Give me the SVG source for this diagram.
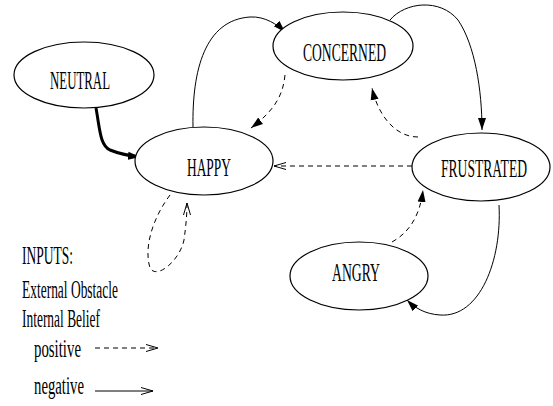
<svg xmlns="http://www.w3.org/2000/svg" width="553" height="406" viewBox="0 0 553 406">
<style>
.node ellipse{fill:#fff;stroke:#000;stroke-width:1.2}
text{font-family:"Liberation Serif","Times New Roman",serif;font-size:25px;fill:#000}
.edge{fill:none;stroke:#000;stroke-width:1}
.dash{stroke-dasharray:5,4}
.thick{stroke-width:3}
</style>
<defs>
<marker id="fa" markerUnits="userSpaceOnUse" markerWidth="14" markerHeight="10" refX="12" refY="5" orient="auto">
<path d="M0,1 L12,5 L0,9 Z" fill="#000"/>
</marker>
<marker id="oa" markerUnits="userSpaceOnUse" markerWidth="14" markerHeight="10" refX="12" refY="5" orient="auto">
<path d="M0,1.5 L12,5 L0,8.5" fill="none" stroke="#000" stroke-width="1"/>
</marker>
</defs>
<g id="connectors">
<path class="edge thick" d="M96,108 C100,130 100,145 110,150 C120,154 130,156 140,157" marker-end="url(#fa)"/>
<path class="edge" d="M193,127 C192,70 205,20 250,17 C265,16 278,25 285,32" marker-end="url(#fa)"/>
<path class="edge dash" d="M285,75 C283,95 275,110 251,128" marker-end="url(#fa)"/>
<path class="edge" d="M390,20 C405,2 440,-2 458,20 C475,45 482,90 482,130" marker-end="url(#fa)"/>
<path class="edge dash" d="M418,137 C395,137 378,115 372,88" marker-end="url(#fa)"/>
<path class="edge dash" d="M412,166 L274,166" marker-end="url(#oa)"/>
<path class="edge" d="M499,205 C502,260 480,318 440,315 C425,314 415,308 407,300" marker-end="url(#fa)"/>
<path class="edge dash" d="M392,242 C410,232 420,215 423,190" marker-end="url(#fa)"/>
<path class="edge dash" d="M170,195 C155,215 143,245 150,268 C157,280 180,260 184,240 C186,225 187,215 187,203" marker-end="url(#oa)"/>
<path class="edge dash" d="M95,348 L158,348" marker-end="url(#oa)"/>
<path class="edge" d="M95,391 L153,391" marker-end="url(#oa)"/>
</g>
<g id="neutral" class="node"><ellipse cx="84" cy="75" rx="70" ry="33"/><text transform="translate(50,89) scale(0.6,1)" textLength="100" lengthAdjust="spacingAndGlyphs">NEUTRAL</text></g>
<g id="happy" class="node"><ellipse cx="204" cy="161" rx="69" ry="34"/><text transform="translate(187,176) scale(0.6,1)" textLength="73.3" lengthAdjust="spacingAndGlyphs">HAPPY</text></g>
<g id="concerned" class="node"><ellipse cx="343" cy="46" rx="70" ry="34"/><text transform="translate(303,61) scale(0.6,1)" textLength="138.3" lengthAdjust="spacingAndGlyphs">CONCERNED</text></g>
<g id="frustrated" class="node"><ellipse cx="481" cy="167" rx="69" ry="34"/><text transform="translate(441,177) scale(0.6,1)" textLength="143.3" lengthAdjust="spacingAndGlyphs">FRUSTRATED</text></g>
<g id="angry" class="node"><ellipse cx="359" cy="276" rx="69" ry="34"/><text transform="translate(332,281) scale(0.6,1)" textLength="80" lengthAdjust="spacingAndGlyphs">ANGRY</text></g>
<g id="legend">
<text transform="translate(22,264) scale(0.6,1)" textLength="85" lengthAdjust="spacingAndGlyphs">INPUTS:</text>
<text transform="translate(22,298) scale(0.6,1)" textLength="160" lengthAdjust="spacingAndGlyphs">External Obstacle</text>
<text transform="translate(22,327) scale(0.6,1)" textLength="130" lengthAdjust="spacingAndGlyphs">Internal Belief</text>
<text transform="translate(34,357) scale(0.6,1)" textLength="78.3" lengthAdjust="spacingAndGlyphs">positive</text>
<text transform="translate(34,394) scale(0.6,1)" textLength="83.3" lengthAdjust="spacingAndGlyphs">negative</text>
</g>
</svg>
